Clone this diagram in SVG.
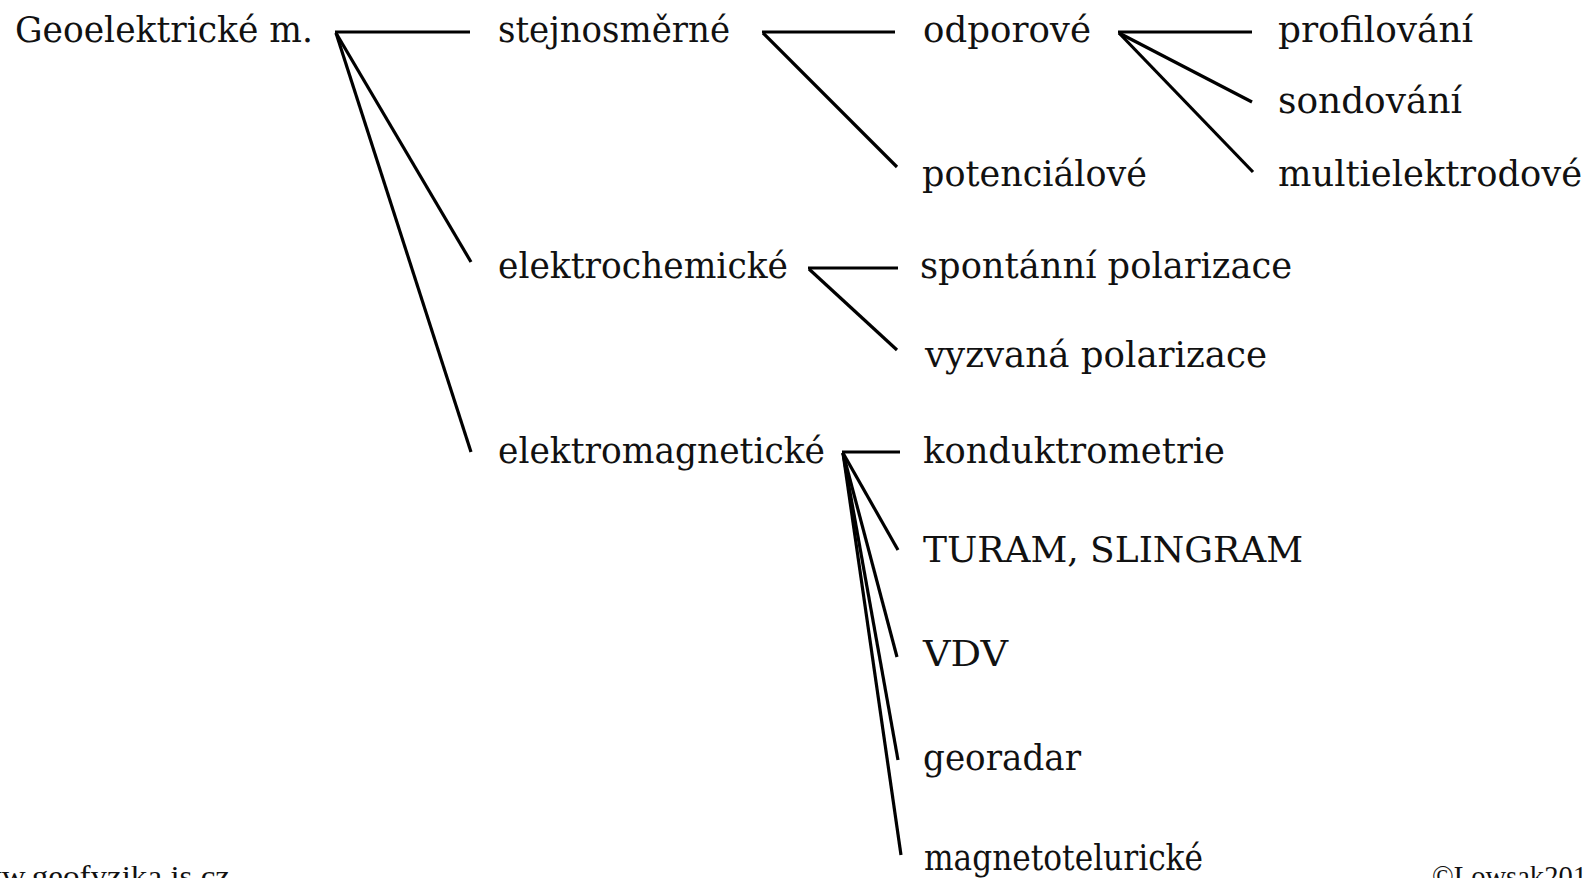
<svg xmlns="http://www.w3.org/2000/svg" width="1591" height="878" viewBox="0 0 1591 878">
<style>
.t{font-family:"DejaVu Serif","Liberation Serif",serif;font-size:34.5px;fill:#111}
.f{font-family:"Liberation Serif","DejaVu Serif",serif;font-size:30px;fill:#111}
.c line{stroke:#000;stroke-width:3.2;stroke-linecap:butt}
</style>
<rect width="1591" height="878" fill="#fff"/>
<g class="c" id="connectors">
<line x1="335" y1="32" x2="470" y2="32"/>
<line x1="336" y1="33" x2="471" y2="262"/>
<line x1="336" y1="33" x2="471" y2="452"/>
<line x1="762" y1="32" x2="895" y2="32"/>
<line x1="763" y1="33" x2="897" y2="167"/>
<line x1="1118" y1="32" x2="1252" y2="32"/>
<line x1="1119" y1="33" x2="1252" y2="102"/>
<line x1="1119" y1="33" x2="1253" y2="172"/>
<line x1="808" y1="268" x2="898" y2="268"/>
<line x1="809" y1="269" x2="897" y2="350"/>
<line x1="842" y1="452" x2="900" y2="452"/>
<line x1="843" y1="453" x2="898" y2="550"/>
<line x1="843" y1="453" x2="897" y2="657"/>
<line x1="843" y1="453" x2="898" y2="760"/>
<line x1="843" y1="453" x2="901" y2="855"/>
</g>
<g id="n-root"><text class="t" x="15" y="42" textLength="298" lengthAdjust="spacingAndGlyphs">Geoelektrické m.</text></g>
<g id="n-stejnosmerne"><text class="t" x="498" y="42" textLength="232" lengthAdjust="spacingAndGlyphs">stejnosměrné</text></g>
<g id="n-odporove"><text class="t" x="923" y="42" textLength="168" lengthAdjust="spacingAndGlyphs">odporové</text></g>
<g id="n-profilovani"><text class="t" x="1278" y="42" textLength="195" lengthAdjust="spacingAndGlyphs">profilování</text></g>
<g id="n-sondovani"><text class="t" x="1278" y="113" textLength="184" lengthAdjust="spacingAndGlyphs">sondování</text></g>
<g id="n-multielektrodove"><text class="t" x="1278" y="186" textLength="304" lengthAdjust="spacingAndGlyphs">multielektrodové</text></g>
<g id="n-potencialove"><text class="t" x="922" y="186" textLength="225" lengthAdjust="spacingAndGlyphs">potenciálové</text></g>
<g id="n-elektrochemicke"><text class="t" x="498" y="278" textLength="290" lengthAdjust="spacingAndGlyphs">elektrochemické</text></g>
<g id="n-spontanni"><text class="t" x="920" y="278" textLength="372" lengthAdjust="spacingAndGlyphs">spontánní polarizace</text></g>
<g id="n-vyzvana"><text class="t" x="925" y="367" textLength="342" lengthAdjust="spacingAndGlyphs">vyzvaná polarizace</text></g>
<g id="n-elektromagneticke"><text class="t" x="498" y="463" textLength="327" lengthAdjust="spacingAndGlyphs">elektromagnetické</text></g>
<g id="n-konduktrometrie"><text class="t" x="923" y="463" textLength="302" lengthAdjust="spacingAndGlyphs">konduktrometrie</text></g>
<g id="n-turam"><text class="t" x="923" y="562" textLength="380" lengthAdjust="spacingAndGlyphs">TURAM, SLINGRAM</text></g>
<g id="n-vdv"><text class="t" x="923" y="666" textLength="85" lengthAdjust="spacingAndGlyphs">VDV</text></g>
<g id="n-georadar"><text class="t" x="923" y="770" textLength="158" lengthAdjust="spacingAndGlyphs">georadar</text></g>
<g id="n-magnetotelluricke"><text class="t" x="924" y="870" textLength="279" lengthAdjust="spacingAndGlyphs">magnetotelurické</text></g>
<g id="footer">
<text class="f" x="-46" y="886" textLength="276" lengthAdjust="spacingAndGlyphs">www.geofyzika.js.cz</text>
<text class="f" x="1432" y="886" textLength="155" lengthAdjust="spacingAndGlyphs">©Lowsak201</text>
</g>
</svg>
